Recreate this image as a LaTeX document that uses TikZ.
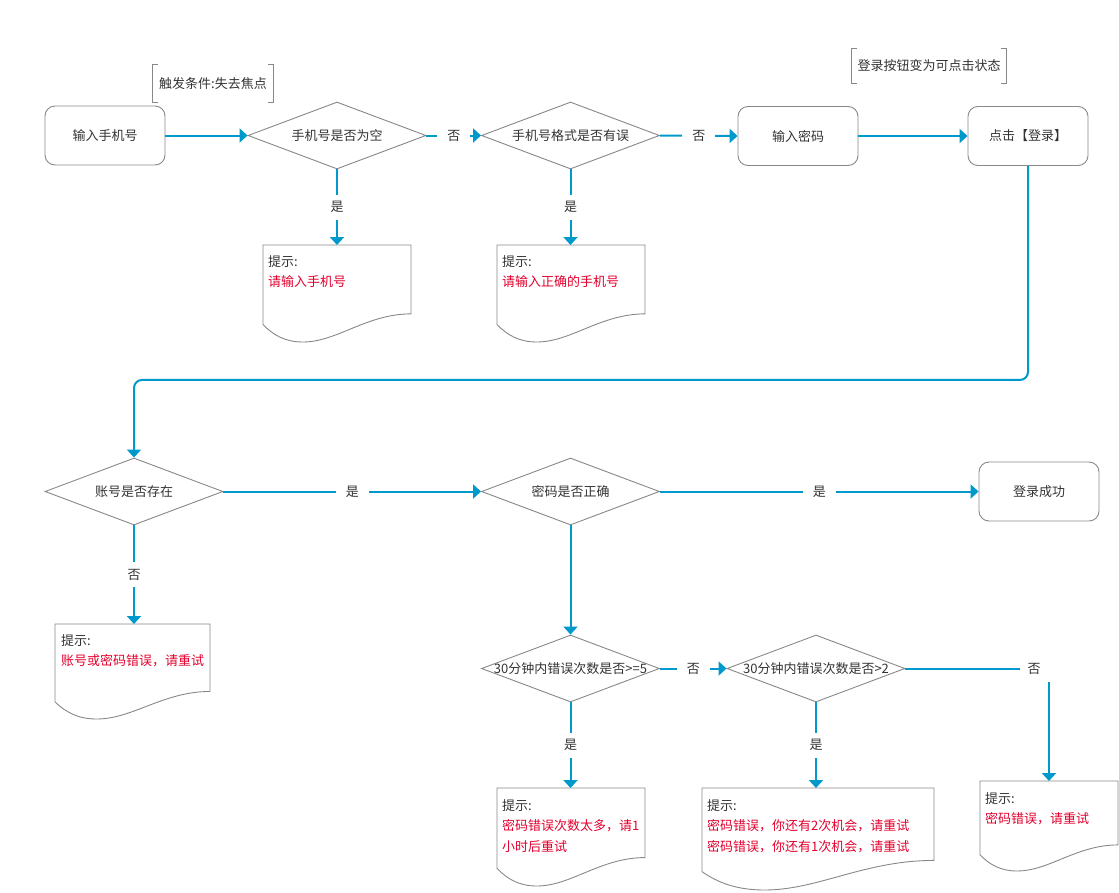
\documentclass[tikz,border=0pt]{standalone}
\usepackage{fontspec}
\setmainfont{Noto Sans CJK SC}
\usetikzlibrary{shapes.geometric,arrows.meta,calc}
\definecolor{lineblue}{RGB}{0,153,204}
\definecolor{shapegray}{RGB}{136,136,136}
\definecolor{txt}{RGB}{51,51,51}
\definecolor{warn}{RGB}{227,0,45}
\newcommand{\docshape}[5]{%
  \node[docbox, minimum width=#4pt, minimum height=#5pt, anchor=north west] (#1) at (#2,#3) {};
  \draw[docline] (#2,#3) -- ({#2+#4},#3) -- ({#2+#4},{#3+0.71*#5})
    .. controls ({#2+0.7*#4},{#3+0.71*#5}) and ({#2+0.5*#4},{#3+#5}) .. ({#2+0.27*#4},{#3+#5})
    .. controls ({#2+0.15*#4},{#3+#5}) and ({#2+0.07*#4},{#3+0.93*#5}) .. (#2,{#3+0.82*#5}) -- cycle;
}
\newcommand{\annobrackets}[1]{%
  \draw[annoline] ($(#1.north west)+(5,0)$) -- (#1.north west) -- (#1.south west) -- ++(5,0);
  \draw[annoline] ($(#1.north east)+(-5,0)$) -- (#1.north east) -- (#1.south east) -- ++(-5,0);
}
\begin{document}
\begin{tikzpicture}[x=1pt,y=-1pt,
  every node/.style={font=\fontsize{13}{20.5}\selectfont, text=txt},
  box/.style={draw=shapegray, line width=0.9pt, rounded corners=10pt, minimum width=120pt, minimum height=59pt, inner sep=0pt},
  dec/.style={diamond, draw=shapegray, line width=0.9pt, minimum width=178pt, minimum height=67pt, inner sep=0pt},
  anno/.style={draw=none, inner sep=0pt, minimum width=120pt, minimum height=37pt},
  annoline/.style={draw=shapegray, line width=0.9pt},
  docbox/.style={draw=none, inner sep=0pt, outer sep=0pt},
  docline/.style={draw=shapegray, line width=0.9pt},
  doctext/.style={anchor=north west, inner sep=0pt, align=left},
  conn/.style={draw=lineblue, line width=2pt, -{Triangle[length=8pt,width=14pt]}},
  lbl/.style={fill=white, inner xsep=10pt, inner ysep=7pt}
]
\useasboundingbox (0,0) rectangle (1119,892);

% top row
\node[box] (in) at (105,135.5) {输入手机号};
\node[anno] (an1) at (213,83.5) {触发条件:失去焦点};
\annobrackets{an1}
\node[dec] (d1) at (337,135.5) {\makebox[0pt]{手机号是否为空}};
\node[dec] (d2) at (570.5,135.5) {\makebox[0pt]{手机号格式是否有误}};
\node[box] (pw) at (798,136) {输入密码};
\node[box] (btn) at (1028,136) {点击【登录】};
\node[anno, minimum width=154pt, minimum height=34pt] (an2) at (929,66) {登录按钮变为可点击状态};
\annobrackets{an2}

\docshape{doc1}{263}{245}{148}{97}
\node[doctext] (doc1t) at (268,255) {提示:\\\textcolor{warn}{请输入手机号}};
\docshape{doc2}{497}{245}{148}{97}
\node[doctext] (doc2t) at (502,255) {提示:\\\textcolor{warn}{请输入正确的手机号}};

% middle row
\node[dec] (d3) at (134,491.5) {\makebox[0pt]{账号是否存在}};
\node[dec] (d4) at (570.5,491.5) {\makebox[0pt]{密码是否正确}};
\node[box] (ok) at (1039,491.5) {登录成功};

\docshape{doc3}{55}{624}{155}{95}
\node[doctext] (doc3t) at (61,634) {提示:\\\textcolor{warn}{账号或密码错误，请重试}};

% bottom row
\node[dec] (d5) at (570.5,668.5) {\makebox[0pt]{30分钟内错误次数是否>=5}};
\node[dec] (d6) at (816,668.5) {\makebox[0pt]{30分钟内错误次数是否>2}};

\docshape{doc5}{497}{788}{148}{98}
\node[doctext] (doc5t) at (502,799) {提示:\\\textcolor{warn}{密码错误次数太多，请1}\\\textcolor{warn}{小时后重试}};
\docshape{doc6}{702}{788}{232}{102}
\node[doctext] (doc6t) at (707,799) {提示:\\\textcolor{warn}{密码错误，你还有2次机会，请重试}\\\textcolor{warn}{密码错误，你还有1次机会，请重试}};
\docshape{doc7}{980}{781}{138}{90}
\node[doctext] (doc7t) at (985,792) {提示:\\\textcolor{warn}{密码错误，请重试}};

% connectors
\draw[conn] (in.east) -- (d1.west);
\draw[conn] (d1.east) -- node[lbl] (l1) {否} (d2.west);
\draw[conn] (d2.east) -- node[lbl] (l2) {否} (pw.west);
\draw[conn] (pw.east) -- (btn.west);
\draw[conn] (d1.south) -- node[lbl] (l3) {是} (doc1.north);
\draw[conn] (d2.south) -- node[lbl] (l4) {是} (d2.south |- doc2.north);
\draw[conn, rounded corners=8pt] (btn.south) -- ++(0,214) -| (d3.north);
\draw[conn] (d3.east) -- node[lbl] (l5) {是} (d4.west);
\draw[conn] (d4.east) -- node[lbl] (l6) {是} (ok.west);
\draw[conn] (d3.south) -- node[lbl] (l7) {否} (d3.south |- doc3.north);
\draw[conn] (d4.south) -- (d5.north);
\draw[conn] (d5.east) -- node[lbl] (l8) {否} (d6.west);
\draw[conn] (d5.south) -- node[lbl] (l9) {是} (d5.south |- doc5.north);
\draw[conn] (d6.south) -- node[lbl] (l10) {是} (d6.south |- doc6.north);
\draw[conn] (d6.east) -| node[pos=0.5, fill=white, inner sep=0pt, minimum width=38pt, minimum height=26pt, xshift=-10pt] (l11) {否\rule{10pt}{0pt}} (doc7.north);
\end{tikzpicture}
\end{document}
